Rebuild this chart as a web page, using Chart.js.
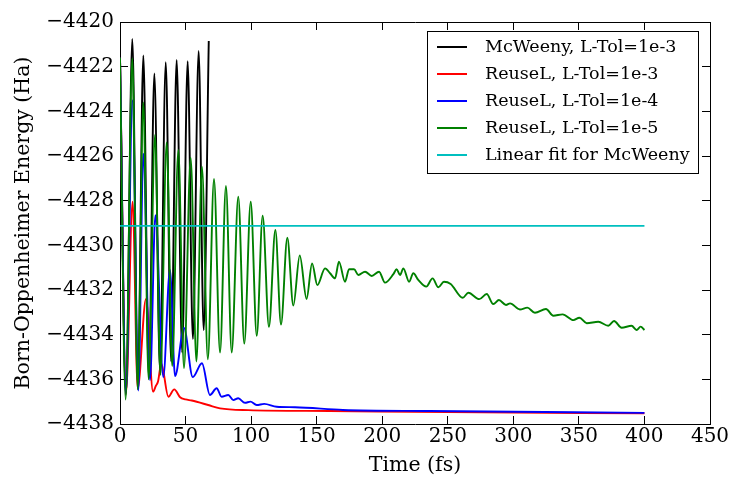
<!DOCTYPE html>
<html>
<head>
<meta charset="utf-8">
<script src="https://cdn.jsdelivr.net/npm/chart.js@4.4.0/dist/chart.umd.min.js"></script>
<style>
  html, body { margin: 0; padding: 0; background: #fff; }
  #wrap { width: 731px; height: 478px; position: relative; }
</style>
</head>
<body>
<div id="wrap"><canvas id="chart"></canvas></div>
<script>
// tick values
const xTicks = [0, 50, 100, 150, 200, 250, 300, 350, 400, 450];
const yTicks = [-4438, -4436, -4434, -4432, -4430, -4428, -4426, -4424, -4422, -4420];

const seriesLabels = ['McWeeny, L-Tol=1e-3', 'ReuseL, L-Tol=1e-3', 'ReuseL, L-Tol=1e-4', 'ReuseL, L-Tol=1e-5', 'Linear fit for McWeeny'];
const seriesColors = ['#000000', '#ff0000', '#0000ff', '#008000', '#00bfbf'];

// McWeeny, L-Tol=1e-3 (peaks / troughs)
const mcTime = [0, 4.5, 9.4, 13.6, 17.8, 22, 26.2, 30.5, 34.9, 39, 43.2, 47.4, 51.6, 55.6, 60, 63.8, 67.7];
const mcEnergy = [-4421.6, -4436.7, -4420.76, -4436.3, -4421.5, -4435.9, -4422.3, -4435.6, -4421.8, -4435.2, -4421.7, -4434.8, -4421.75, -4434.2, -4421.3, -4433.8, -4420.85];

// ReuseL, L-Tol=1e-3
const r3Time = [0, 4.6, 9.6, 13.5, 19.8, 25.2, 27.3, 29, 31.5, 36.9, 41.4, 45.8, 50, 54.7, 67.3, 76.3, 97.9, 160, 250, 400];
const r3Energy = [-4421.6, -4436.6, -4428.05, -4436.4, -4432.4, -4436.55, -4436.3, -4436.1, -4435.3, -4436.78, -4436.45, -4436.8, -4436.9, -4436.95, -4437.15, -4437.3, -4437.38, -4437.42, -4437.47, -4437.52];

// ReuseL, L-Tol=1e-4
const r4Time = [0, 4.6, 9.5, 14, 17.8, 22.9, 27, 33, 38.1, 42, 48.8, 55.5, 62.5, 68.6, 73.7, 77.5, 82.6, 86.4, 90.2, 95.3, 99.5, 104.2, 110, 119.5, 133.5, 170, 236, 400];
const r4Energy = [-4421.6, -4436.6, -4423.5, -4436.5, -4425.9, -4436.03, -4428.65, -4435.9, -4431.1, -4435.85, -4433.7, -4435.9, -4435.28, -4436.7, -4436.4, -4436.78, -4436.7, -4436.93, -4436.85, -4437.05, -4437.0, -4437.15, -4437.1, -4437.23, -4437.25, -4437.37, -4437.42, -4437.5];

// ReuseL, L-Tol=1e-5
const r5Time = [0, 4.3, 9.4, 13.5, 17.8, 21.8, 26.7, 30.8, 35.6, 39.8, 44.5, 48.8, 53.9, 58.3, 62.5, 67, 71.7, 76.3, 80.8, 85.2,
  90.2, 94.8, 99.7, 104.3, 108.8, 113.6, 118.5, 122.8, 127.6, 132.2, 137.1, 142.3, 146.5, 150.5, 156.4, 160.2, 164, 167, 171.6, 174.7,
  178.5, 181.8, 186.9, 192, 197.6, 202.1, 208.5, 211, 213.6, 216.1, 220.5, 223.7, 227.5, 233.6, 238.4, 242.8, 247.1, 252.2, 261.4, 265.7,
  274, 279.7, 284.7, 289, 294.4, 297.5, 305, 310.7, 316.5, 324.9, 330.5, 337.6, 345.8, 350.4, 356, 364.8, 372.4, 376.8, 382.6, 390.2,
  394, 397.1, 400];
const r5Energy = [-4421.6, -4436.9, -4421.63, -4436.45, -4423.6, -4436.0, -4425.06, -4435.8, -4425.39, -4435.4, -4425.73, -4435.5, -4426.08, -4435.2, -4426.48, -4435.1, -4427.03, -4434.8, -4427.34, -4434.8,
  -4427.82, -4434.4, -4428.05, -4434.05, -4428.67, -4433.65, -4429.31, -4433.55, -4429.66, -4432.7, -4430.45, -4432.4, -4430.81, -4431.78, -4431.03, -4431.25, -4431.48, -4430.73, -4431.63, -4431.07,
  -4431.07, -4431.33, -4431.18, -4431.37, -4431.18, -4431.67, -4431.29, -4431.07, -4431.33, -4431.03, -4431.63, -4431.25, -4431.55, -4431.85, -4431.48, -4431.88, -4431.63, -4431.73, -4432.35, -4432.12,
  -4432.41, -4432.18, -4432.63, -4432.45, -4432.67, -4432.6, -4432.87, -4432.79, -4433.02, -4432.85, -4433.15, -4433.09, -4433.35, -4433.24, -4433.49, -4433.42, -4433.6, -4433.39, -4433.69, -4433.6,
  -4433.79, -4433.64, -4433.79];

// Linear fit for McWeeny
const fitTime = [0, 400];
const fitEnergy = [-4429.13, -4429.13];

function pts(t, e) {
    return t.map((x, i) => ({ x: x, y: e[i] }));
}

Chart.defaults.font.family = "'DejaVu Serif', serif";
Chart.defaults.color = '#000';

// legend box drawn inside the plot, top right
const boxLegend = {
    id: 'boxLegend',
    afterDraw(chart) {
        const ctx = chart.ctx;
        const area = chart.chartArea;
        const left = area.right - 283, top = area.top + 9, w = 271, h = 142;
        ctx.save();
        ctx.fillStyle = '#fff';
        ctx.fillRect(left, top, w, h);
        ctx.strokeStyle = '#000';
        ctx.lineWidth = 1;
        ctx.strokeRect(left + 0.5, top + 0.5, w, h);
        ctx.font = "17.5px 'DejaVu Serif'";
        ctx.textBaseline = 'middle';
        seriesLabels.forEach((label, i) => {
            const y = top + 16 + i * 27;
            ctx.strokeStyle = seriesColors[i];
            ctx.lineWidth = 2;
            ctx.beginPath();
            ctx.moveTo(left + 10, y);
            ctx.lineTo(left + 40, y);
            ctx.stroke();
            ctx.fillStyle = '#000';
            ctx.fillText(label, left + 58, y);
        });
        ctx.restore();
    }
};

const tickGrid = { drawOnChartArea: false, tickLength: -8, color: '#000' };
const frame = { display: true, color: '#000', width: 1 };

// fixed axis boxes so the plot area lands where the original had it
function sizeX(h) {
    return s => { s.height = h; s.paddingLeft = 0; s.paddingRight = 0; s.paddingTop = 0; s.paddingBottom = 0; };
}
function sizeY(w) {
    return s => { s.width = w; s.paddingLeft = 0; s.paddingRight = 0; s.paddingTop = 0; s.paddingBottom = 0; };
}

const chart = document.querySelector('#chart').getContext('2d');

new Chart(chart, {
    type: 'line',
    data: {
        datasets: [
            { label: seriesLabels[0], data: pts(mcTime, mcEnergy), borderColor: seriesColors[0], order: 5 },
            { label: seriesLabels[1], data: pts(r3Time, r3Energy), borderColor: seriesColors[1], order: 4 },
            { label: seriesLabels[2], data: pts(r4Time, r4Energy), borderColor: seriesColors[2], order: 3 },
            { label: seriesLabels[3], data: pts(r5Time, r5Energy), borderColor: seriesColors[3], order: 2 },
            { label: seriesLabels[4], data: pts(fitTime, fitEnergy), borderColor: seriesColors[4], order: 1 }
        ]
    },
    options: {
        responsive: true,
        maintainAspectRatio: false,
        animation: false,
        layout: { padding: 0 },
        elements: {
            point: { radius: 0 },
            line: { borderWidth: 1.9, cubicInterpolationMode: 'monotone', fill: false }
        },
        plugins: {
            legend: { display: false },
            tooltip: { enabled: false }
        },
        scales: {
            x: {
                type: 'linear', position: 'bottom', min: 0, max: 450,
                afterBuildTicks: s => { s.ticks = xTicks.map(v => ({ value: v })); },
                afterFit: sizeX(54),
                ticks: { font: { size: 20 }, padding: 9, maxRotation: 0, autoSkip: false, callback: v => String(v) },
                grid: tickGrid,
                border: frame,
                title: { display: true, text: 'Time (fs)', font: { size: 20.5 }, padding: 0 }
            },
            y: {
                type: 'linear', position: 'left', min: -4438, max: -4420,
                afterBuildTicks: s => { s.ticks = yTicks.map(v => ({ value: v })); },
                afterFit: sizeY(120),
                ticks: { font: { size: 20 }, padding: 14, callback: v => '\u2212' + Math.abs(v) },
                grid: tickGrid,
                border: frame,
                title: { display: true, text: 'Born-Oppenheimer Energy (Ha)', font: { size: 20.5 }, padding: { top: 11, bottom: 0 } }
            },
            x2: {
                type: 'linear', position: 'top', min: 0, max: 450,
                afterBuildTicks: s => { s.ticks = xTicks.map(v => ({ value: v })); },
                afterFit: sizeX(22),
                ticks: { display: false },
                grid: tickGrid,
                border: frame
            },
            y2: {
                type: 'linear', position: 'right', min: -4438, max: -4420,
                afterBuildTicks: s => { s.ticks = yTicks.map(v => ({ value: v })); },
                afterFit: sizeY(21),
                ticks: { display: false },
                grid: tickGrid,
                border: frame
            }
        }
    },
    plugins: [boxLegend]
});
</script>
</body>
</html>
